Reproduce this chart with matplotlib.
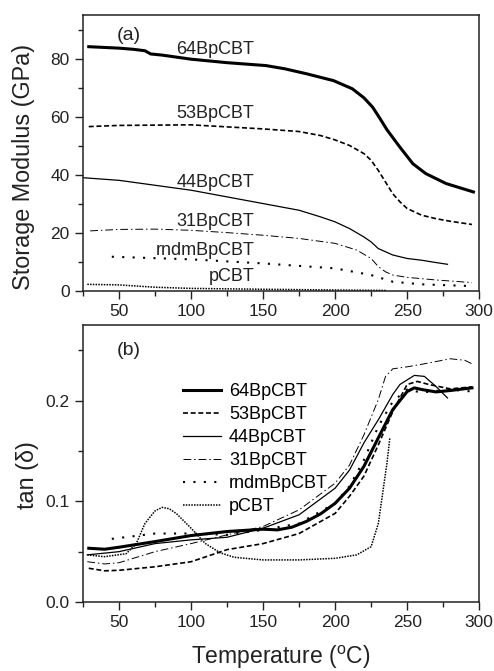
import matplotlib
matplotlib.use("Agg")
import matplotlib.pyplot as plt
from matplotlib.ticker import MultipleLocator

plt.rcParams["font.family"] = ["Liberation Sans", "DejaVu Sans"]
plt.rcParams["mathtext.fontset"] = "custom"
plt.rcParams["mathtext.rm"] = "Liberation Sans"
plt.rcParams["mathtext.it"] = "Liberation Sans:italic"

ink = "#222222"

# ---- (a) storage modulus, GPa ----
t64_a = [29, 50, 60, 68, 72, 80, 100, 125, 152, 165, 180, 199, 212, 220, 226, 231, 236, 245, 254, 263, 277, 296]
e64 = [84.1, 83.6, 83.2, 82.7, 81.6, 81.2, 79.8, 78.6, 77.6, 76.5, 74.8, 72.4, 69.6, 66.5, 63.3, 59.5, 55.5, 49.5, 43.8, 40.4, 37.0, 34.1]

t53_a = [29, 50, 100, 150, 175, 190, 200, 210, 220, 225, 230, 235, 240, 245, 250, 260, 270, 280, 295]
e53 = [56.6, 57.0, 57.2, 55.8, 54.9, 53.5, 52.0, 50.1, 47.3, 45.0, 41.5, 37.5, 33.5, 30.7, 28.4, 26.1, 24.9, 24.0, 22.9]

t44_a = [25, 50, 75, 100, 125, 150, 175, 190, 200, 210, 220, 225, 230, 240, 250, 260, 270, 278]
e44 = [39.0, 38.1, 36.4, 34.7, 32.4, 30.1, 27.8, 25.5, 23.8, 21.5, 18.6, 16.9, 14.6, 12.4, 11.2, 10.6, 9.8, 9.2]

t31_a = [30, 50, 75, 100, 125, 150, 175, 200, 215, 225, 230, 235, 240, 250, 270, 295]
e31 = [20.7, 21.2, 21.3, 20.9, 20.1, 19.2, 18.1, 16.4, 14.1, 11.2, 8.4, 6.6, 5.5, 4.7, 3.8, 2.9]

trn_a = [45, 100, 150, 200, 225, 240, 260, 295]
ern = [11.8, 10.9, 9.5, 7.8, 5.5, 3.2, 2.3, 1.7]

tp_a = [28, 50, 75, 100, 150, 200, 236]
ep = [2.3, 2.1, 1.3, 0.9, 0.6, 0.35, 0.2]

# ---- (b) tan delta ----
t64_b = [29, 40, 50, 75, 100, 125, 150, 160, 170, 180, 190, 200, 210, 220, 230, 240, 250, 255, 260, 270, 280, 295]
d64 = [0.0534, 0.0524, 0.0544, 0.060, 0.066, 0.070, 0.0723, 0.0716, 0.0743, 0.080, 0.0876, 0.098, 0.113, 0.1347, 0.163, 0.191, 0.209, 0.2126, 0.211, 0.2086, 0.210, 0.2126]

t53_b = [29, 40, 50, 75, 100, 125, 150, 175, 200, 210, 220, 230, 240, 250, 257, 265, 280, 295]
d53 = [0.0335, 0.031, 0.0315, 0.035, 0.040, 0.052, 0.058, 0.068, 0.088, 0.105, 0.125, 0.156, 0.189, 0.216, 0.219, 0.216, 0.2116, 0.2136]

t44_b = [28, 50, 75, 100, 125, 150, 175, 200, 210, 220, 230, 240, 245, 255, 262, 270, 278]
d44 = [0.0468, 0.050, 0.058, 0.0617, 0.0643, 0.0733, 0.0866, 0.113, 0.131, 0.158, 0.181, 0.206, 0.216, 0.225, 0.224, 0.214, 0.2026]

t31_b = [28, 40, 50, 75, 100, 125, 150, 175, 200, 210, 220, 230, 235, 240, 250, 260, 280, 290, 295]
d31 = [0.040, 0.0378, 0.039, 0.050, 0.058, 0.0667, 0.075, 0.0915, 0.118, 0.136, 0.166, 0.201, 0.224, 0.2315, 0.2335, 0.236, 0.2415, 0.240, 0.2365]

trn_b = [45, 75, 100, 125, 150, 175, 200, 210, 220, 230, 240, 250, 260, 280, 295]
drn = [0.0627, 0.068, 0.068, 0.0667, 0.0716, 0.078, 0.098, 0.115, 0.141, 0.1745, 0.199, 0.211, 0.208, 0.211, 0.209]

tp_b = [28, 40, 55, 62, 68, 75, 80, 85, 90, 100, 110, 120, 130, 150, 175, 200, 215, 225, 230, 233, 236, 238]
dp = [0.0468, 0.045, 0.048, 0.058, 0.078, 0.0905, 0.094, 0.0925, 0.0876, 0.0733, 0.058, 0.049, 0.0444, 0.0418, 0.0418, 0.0434, 0.0468, 0.055, 0.078, 0.108, 0.138, 0.163]

names = ["64BpCBT", "53BpCBT", "44BpCBT", "31BpCBT", "rndmBpCBT", "pCBT"]
styles = [
    dict(lw=2.2, ls="-"),
    dict(lw=1.2, ls=(0, (3, 1.6))),
    dict(lw=0.9, ls="-"),
    dict(lw=0.7, ls=(0, (8, 3, 1.5, 3))),
    dict(lw=1.5, ls=(0, (1, 4))),
    dict(lw=1.1, ls=(0, (1, 0.8))),
]

fig = plt.figure(figsize=(4.94, 6.71), dpi=100)
ax1 = fig.add_axes([0.168, 0.5663, 0.802, 0.4113])
ax2 = fig.add_axes([0.168, 0.1028, 0.802, 0.4128])

top = [(t64_a, e64), (t53_a, e53), (t44_a, e44), (t31_a, e31), (trn_a, ern), (tp_a, ep)]
bot = [(t64_b, d64), (t53_b, d53), (t44_b, d44), (t31_b, d31), (trn_b, drn), (tp_b, dp)]

for (x, y), st in zip(top, styles):
    ax1.plot(x, y, color="black", **st)
for (x, y), st, nm in zip(bot, styles, names):
    ax2.plot(x, y, color="black", label=nm, **st)

# curve labels in panel (a), right aligned
label_y = [83, 61, 37.2, 23.8, 14.1, 4.9]
for nm, yy in zip(names, label_y):
    ax1.text(144, yy, nm, ha="right", va="center", fontsize=13, color=ink)
ax1.text(57, 88, "(a)", ha="center", va="center", fontsize=14, color=ink)
ax2.text(57, 0.25, "(b)", ha="center", va="center", fontsize=14, color=ink)

ax1.set_xlim(25, 300)
ax1.set_ylim(0, 95)
ax1.yaxis.set_major_locator(MultipleLocator(20))
ax1.yaxis.set_minor_locator(MultipleLocator(10))
ax1.set_ylabel("Storage Modulus (GPa)", fontsize=16.8, color=ink)
ax1.yaxis.set_label_coords(-0.12, 0.449)

ax2.set_xlim(25, 300)
ax2.set_ylim(0, 0.275)
ax2.yaxis.set_major_locator(MultipleLocator(0.1))
ax2.yaxis.set_minor_locator(MultipleLocator(0.05))
ax2.set_ylabel("tan (δ)", fontsize=16.8, color=ink)
ax2.yaxis.set_label_coords(-0.112, 0.458)
ax2.set_xlabel("Temperature ($^\\mathrm{o}$C)", fontsize=16.5, color=ink)
ax2.xaxis.set_label_coords(0.5, -0.152)

for ax in (ax1, ax2):
    ax.xaxis.set_major_locator(MultipleLocator(50))
    ax.xaxis.set_minor_locator(MultipleLocator(25))
    ax.tick_params(which="major", direction="out", length=6, width=1, labelsize=12.5, colors=ink)
    ax.tick_params(which="minor", direction="out", length=3.5, width=1, colors=ink)
    for s in ax.spines.values():
        s.set_linewidth(1.1)
        s.set_color(ink)

ax2.legend(loc="upper left", bbox_to_anchor=(0.2525, 0.79), frameon=False, fontsize=13,
           handlelength=2.1, handletextpad=0.45, labelspacing=0.33, borderpad=0, borderaxespad=0)

fig.savefig("out.png", dpi=100)
